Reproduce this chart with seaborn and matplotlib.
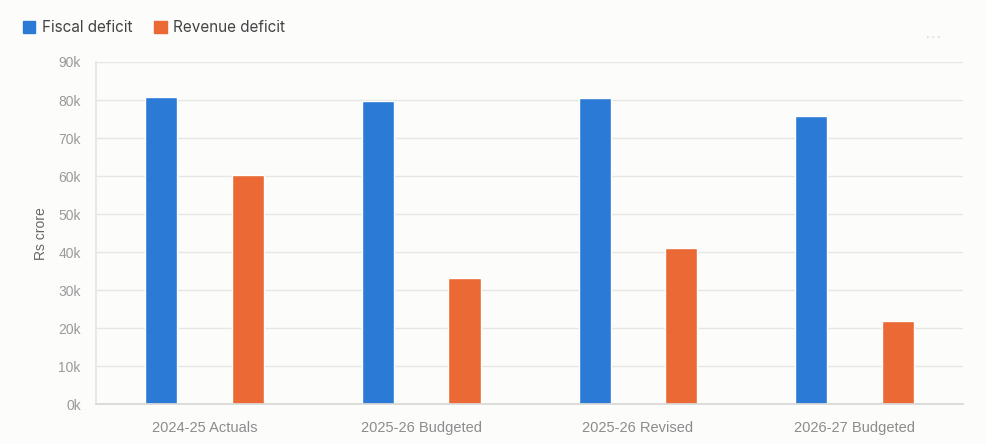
import pandas as pd
import matplotlib
matplotlib.use("Agg")
import matplotlib.pyplot as plt
import seaborn as sns
from matplotlib.patches import Patch
from matplotlib.ticker import FuncFormatter, MultipleLocator

# ===== DATA =====
periods = ["2024-25 Actuals", "2025-26 Budgeted", "2025-26 Revised", "2026-27 Budgeted"]
fiscal_deficit = [80900, 79800, 80400, 75800]
revenue_deficit = [60200, 33200, 41100, 21900]
series_names = ["Fiscal deficit", "Revenue deficit"]
colors = ["#2a7ad6", "#eb6934"]
# ================

df = pd.DataFrame({
    "period": periods * 2,
    "series": [series_names[0]] * 4 + [series_names[1]] * 4,
    "value": fiscal_deficit + revenue_deficit,
})

sns.set_theme(style="white")
plt.rcParams["font.family"] = ["Liberation Sans", "DejaVu Sans"]

bg = "#fcfcfb"
fig = plt.figure(figsize=(9.87, 4.44), dpi=100, facecolor=bg)
ax = fig.add_axes([0.0973, 0.0894, 0.8784, 0.771])
ax.set_facecolor(bg)

sns.barplot(data=df, x="period", y="value", hue="series", palette=colors,
            width=0.8, gap=0.63, saturation=1, legend=False, ax=ax)

ax.set_xlim(-0.5, 3.5)
ax.set_ylim(0, 90000)
ax.yaxis.set_major_locator(MultipleLocator(10000))
ax.yaxis.set_major_formatter(FuncFormatter(lambda v, p: f"{int(v/1000)}k"))
ax.grid(axis="y", color="#e6e6e3", linewidth=1)
ax.set_axisbelow(True)

for s in ["top", "right"]:
    ax.spines[s].set_visible(False)
ax.spines["left"].set_color("#e6e6e3")
ax.spines["bottom"].set_color("#d8d8d6")
ax.tick_params(axis="y", length=10, color="#e6e6e3", labelsize=10, labelcolor="#9a9a9a", pad=1)
ax.tick_params(axis="x", length=0, labelsize=10.5, labelcolor="#8c8c8c", pad=12)

ax.set_xlabel("")
ax.set_ylabel("Rs crore", fontsize=10, color="#666666", labelpad=7)

handles = [Patch(facecolor=c, edgecolor=c, label=n) for c, n in zip(colors, series_names)]
leg = fig.legend(handles=handles, loc="upper left", bbox_to_anchor=(0.009, 0.985),
                 ncol=2, frameon=False, handlelength=0.8, handleheight=0.9,
                 handletextpad=0.45, columnspacing=1.45,
                 prop={"family": "Inter", "size": 11})
for t in leg.get_texts():
    t.set_color("#444444")

fig.text(0.946, 0.905, "\u00b7\u00b7\u00b7", fontsize=12, color="#d9d9d9", ha="center")

fig.savefig("out.png", dpi=100, facecolor=bg)
